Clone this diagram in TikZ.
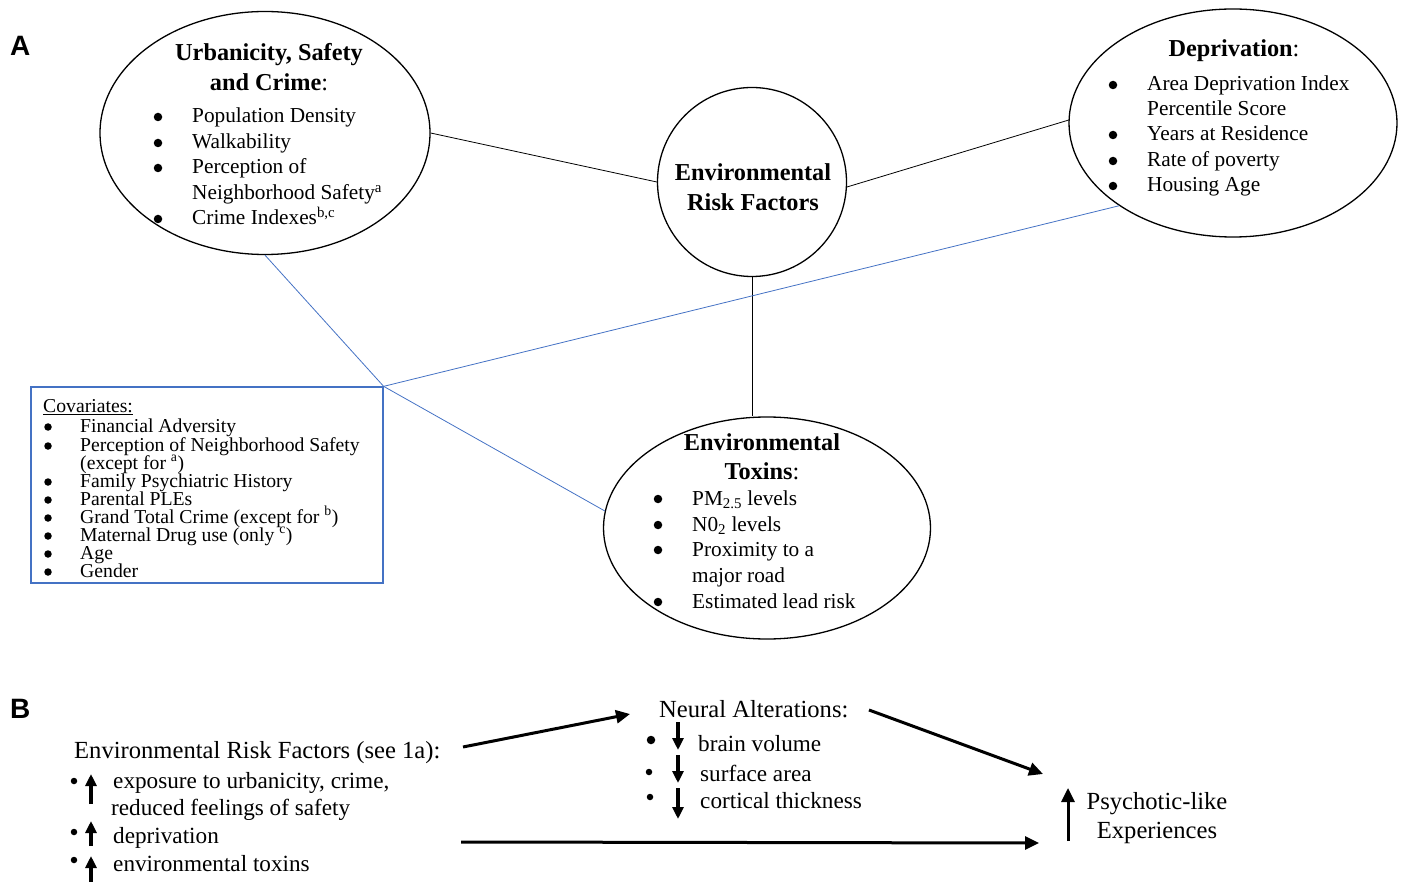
\documentclass[tikz,border=0pt]{standalone}
\usepackage{fontspec}
\setmainfont{Liberation Serif}
\newfontfamily\lsans{Liberation Sans}
\usetikzlibrary{shapes.geometric,arrows.meta}
\definecolor{linkblue}{HTML}{4472C4}
\begin{document}
\begin{tikzpicture}[x=1pt,y=-1pt,
  oval/.style={draw,ellipse,line width=1.3pt,inner sep=0pt},
  ttl/.style={font=\fontsize{24.3}{29}\selectfont\bfseries,anchor=base,inner sep=0pt},
  itm/.style={font=\fontsize{21.3}{26}\selectfont,anchor=base west,inner sep=0pt},
  bdot/.style={circle,fill=black,inner sep=0pt,minimum size=#1},
  bdot/.default=8.5pt,
  cov/.style={font=\fontsize{19.7}{20}\selectfont,anchor=base west,inner sep=0pt},
  btx/.style={font=\fontsize{24.6}{29}\selectfont,anchor=base west,inner sep=0pt},
  bitm/.style={font=\fontsize{23.2}{27}\selectfont,anchor=base west,inner sep=0pt},
  panel/.style={font=\fontsize{28}{32}\selectfont\lsans\bfseries,anchor=base west,inner sep=0pt},
  thin/.style={line width=0.8pt},
  bluel/.style={line width=0.8pt,linkblue},
  bigarr/.style={line width=3pt,-{Triangle[length=14pt,width=13pt]}},
  smarr/.style={line width=3.2pt,-{Triangle[length=12pt,width=11pt]}}
]
\useasboundingbox (0,0) rectangle (1403,882);

% panel letters
\node[panel] (pA) at (10,56) {A};
\node[panel] (pB) at (10,718) {B};

% ---------- Panel A shapes ----------
\node[oval,minimum width=330pt,minimum height=243pt] (urb) at (265,133) {};
\node[oval,minimum width=328pt,minimum height=228pt] (dep) at (1233,123) {};
\node[draw,circle,line width=1.3pt,minimum size=189pt,inner sep=0pt] (erf) at (752,182) {};
\node[oval,minimum width=327pt,minimum height=222pt] (tox) at (767,528) {};
\node[draw=linkblue,line width=1.3pt,minimum width=352pt,minimum height=196pt,inner sep=0pt] (covbox) at (207,485) {};

% connectors
\draw[thin] (urb.east) -- (erf.west);
\draw[thin] (erf.-3) -- (dep.179);
\draw[thin] (erf.south) -- (erf.south |- tox.north);
\draw[bluel] (urb.south) -- (covbox.north east) -- (tox.174);
\draw[bluel] (dep.216) -- (covbox.north east);

% Urbanicity text
\node[ttl] (u1) at (269,61) {Urbanicity, Safety};
\node[ttl] (u2) at (269,91) {and Crime\textmd{:}};
\node[bdot] (ub1) at (158,117) {};
\node[itm] (ui1) at (192,123) {Population Density};
\node[bdot] (ub2) at (158,143) {};
\node[itm] (ui2) at (192,149) {Walkability};
\node[bdot] (ub3) at (158,168) {};
\node[itm] (ui3) at (192,174) {Perception of};
\node[itm] (ui4) at (192,200) {Neighborhood Safety\textsuperscript{a}};
\node[bdot] (ub5) at (158,219) {};
\node[itm] (ui5) at (192,225) {Crime Indexes\textsuperscript{b,c}};

% Deprivation text
\node[ttl] (d1) at (1234,57) {Deprivation\textmd{:}};
\node[bdot] (db1) at (1113,85) {};
\node[itm] (di1) at (1147,91) {Area Deprivation Index};
\node[itm] (di2) at (1147,116) {Percentile Score};
\node[bdot] (db3) at (1113,135) {};
\node[itm] (di3) at (1147,141) {Years at Residence};
\node[bdot] (db4) at (1113,161) {};
\node[itm] (di4) at (1147,167) {Rate of poverty};
\node[bdot] (db5) at (1113,186) {};
\node[itm] (di5) at (1147,192) {Housing Age};

% Circle text
\node[ttl] (c1) at (753,181) {Environmental};
\node[ttl] (c2) at (753,211) {Risk Factors};

% Toxins text
\node[ttl] (t1) at (762,450) {Environmental};
\node[ttl] (t2) at (762,479) {Toxins\textmd{:}};
\node[bdot] (tb1) at (658,499) {};
\node[itm] (ti1) at (692,505) {PM\textsubscript{2.5} levels};
\node[bdot] (tb2) at (658,525) {};
\node[itm] (ti2) at (692,531) {N0\textsubscript{2} levels};
\node[bdot] (tb3) at (658,550) {};
\node[itm] (ti3) at (692,556) {Proximity to a};
\node[itm] (ti4) at (692,582) {major road};
\node[bdot] (tb5) at (658,602) {};
\node[itm] (ti5) at (692,608) {Estimated lead risk};

% Covariates text
\node[cov] (cv0) at (43,413) {\underline{Covariates:}};
\node[bdot=7.5pt] (cb1) at (48,427) {};
\node[cov] (cv1) at (80,432) {Financial Adversity};
\node[bdot=7.5pt] (cb2) at (48,446) {};
\node[cov] (cv2) at (80,451) {Perception of Neighborhood Safety};
\node[cov] (cv3) at (80,469) {(except for \textsuperscript{a})};
\node[bdot=7.5pt] (cb4) at (48,482) {};
\node[cov] (cv4) at (80,487) {Family Psychiatric History};
\node[bdot=7.5pt] (cb5) at (48,500) {};
\node[cov] (cv5) at (80,505) {Parental PLEs};
\node[bdot=7.5pt] (cb6) at (48,518) {};
\node[cov] (cv6) at (80,523) {Grand Total Crime (except for \textsuperscript{b})};
\node[bdot=7.5pt] (cb7) at (48,536) {};
\node[cov] (cv7) at (80,541) {Maternal Drug use (only \textsuperscript{c})};
\node[bdot=7.5pt] (cb8) at (48,554) {};
\node[cov] (cv8) at (80,559) {Age};
\node[bdot=7.5pt] (cb9) at (48,572) {};
\node[cov] (cv9) at (80,577) {Gender};

% ---------- Panel B ----------
\node[btx] (berf) at (74,758) {Environmental Risk Factors (see 1a):};
\node[bdot=6.5pt] (bb1) at (74,781) {};
\coordinate (ua1s) at (91,804); \coordinate (ua1e) at (91,774);
\draw[smarr] (ua1s) -- (ua1e);
\node[bitm] (bi1) at (113,788) {exposure to urbanicity, crime,};
\node[bitm] (bi2) at (111,815) {reduced feelings of safety};
\node[bdot=6.5pt] (bb3) at (74,832) {};
\coordinate (ua2s) at (91,846); \coordinate (ua2e) at (91,821);
\draw[smarr] (ua2s) -- (ua2e);
\node[bitm] (bi3) at (113,843) {deprivation};
\node[bdot=6.5pt] (bb4) at (74,860) {};
\coordinate (ua3s) at (91,895); \coordinate (ua3e) at (91,856);
\draw[smarr] (ua3s) -- (ua3e);
\node[bitm] (bi4) at (113,871) {environmental toxins};

\node[btx] (neur) at (659,717) {Neural Alterations:};
\node[bdot=8.5pt] (nb1) at (651,740) {};
\coordinate (da1s) at (678,722); \coordinate (da1e) at (678,750);
\draw[smarr] (da1s) -- (da1e);
\node[bitm] (ni1) at (698,751) {brain volume};
\node[bdot=6.5pt] (nb2) at (649,772) {};
\coordinate (da2s) at (678,755); \coordinate (da2e) at (678,783);
\draw[smarr] (da2s) -- (da2e);
\node[bitm] (ni2) at (700,781) {surface area};
\node[bdot=6.5pt] (nb3) at (650,797) {};
\coordinate (da3s) at (678,788); \coordinate (da3e) at (678,819);
\draw[smarr] (da3s) -- (da3e);
\node[bitm] (ni3) at (700,808) {cortical thickness};

\coordinate (pa1s) at (1068,841); \coordinate (pa1e) at (1068,788);
\draw[bigarr] (pa1s) -- (pa1e);
\node[btx,anchor=base] (ple1) at (1157,809) {Psychotic-like};
\node[btx,anchor=base] (ple2) at (1157,838) {Experiences};

% main arrows
\coordinate (a1s) at (463,747); \coordinate (a1e) at (630,714);
\draw[bigarr] (a1s) -- (a1e);
\coordinate (a2s) at (869,710); \coordinate (a2e) at (1043,774);
\draw[bigarr] (a2s) -- (a2e);
\coordinate (a3s) at (461,842); \coordinate (a3e) at (1039,843);
\draw[bigarr] (a3s) -- (a3e);
\end{tikzpicture}
\end{document}
